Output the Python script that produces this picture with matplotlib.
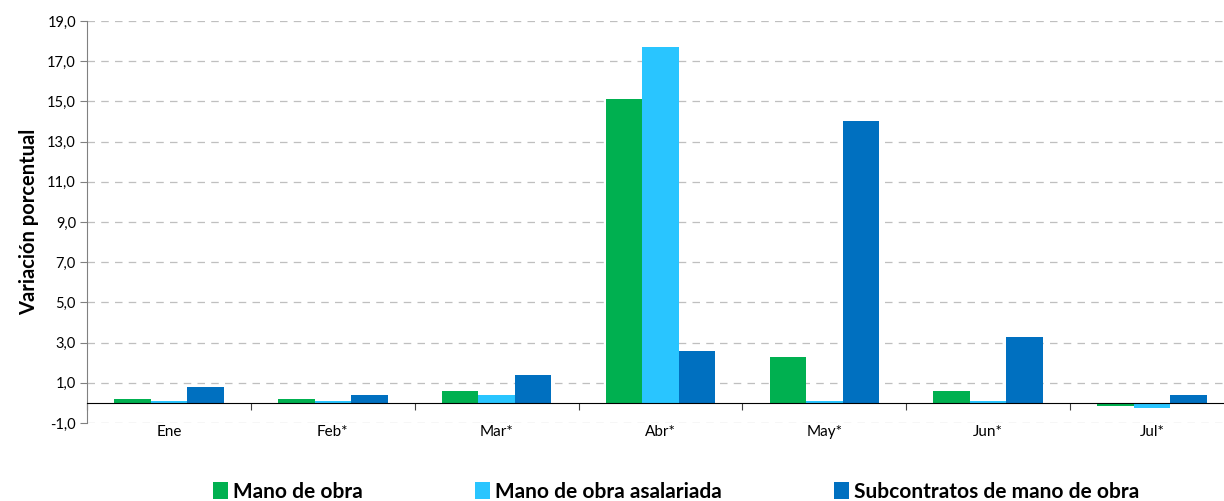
import numpy as np
import matplotlib.pyplot as plt
from matplotlib.ticker import FixedLocator, FuncFormatter

plt.rcParams['font.family'] = ['Lato', 'DejaVu Sans']

meses = ['Ene', 'Feb*', 'Mar*', 'Abr*', 'May*', 'Jun*', 'Jul*']
mano_obra = [0.2, 0.2, 0.6, 15.1, 2.3, 0.6, -0.13]
mano_obra_asalariada = [0.1, 0.1, 0.4, 17.7, 0.1, 0.1, -0.25]
subcontratos = [0.8, 0.4, 1.4, 2.6, 14.0, 3.3, 0.4]

series = [
    ('Mano de obra', mano_obra, '#00B050'),
    ('Mano de obra asalariada', mano_obra_asalariada, '#29C5FF'),
    ('Subcontratos de mano de obra', subcontratos, '#0070C0'),
]

fig = plt.figure(figsize=(12.24, 5.01), dpi=100)
ax = fig.add_axes([87 / 1224, 78 / 501, 1147 / 1224, 402 / 501])

x = np.arange(len(meses))
w = 0.223
for i, (nombre, vals, color) in enumerate(series):
    ax.bar(x + (i - 1) * w, vals, width=w, color=color, label=nombre, zorder=3)

ax.set_xlim(-0.5, len(meses) - 0.5)
ax.set_ylim(-1, 19)
ax.set_yticks(np.arange(-1, 20, 2))
ax.yaxis.set_major_formatter(FuncFormatter(lambda v, p: f'{v:.1f}'.replace('.', ',')))
ax.tick_params(axis='y', direction='out', length=5, color='#808080', labelsize=10.5, pad=3)
ax.grid(axis='y', color='#BFBFBF', linestyle=(0, (6, 5)), linewidth=0.9, zorder=0)

# x axis line at zero, ticks at category boundaries, labels below the chart
ax.spines['bottom'].set_position(('data', 0))
ax.spines['bottom'].set_color('black')
ax.spines['bottom'].set_zorder(4)
ax.xaxis.set_major_locator(FixedLocator(np.arange(-0.5, len(meses), 1.0)))
ax.xaxis.set_major_formatter(FuncFormatter(lambda v, p: ''))
ax.xaxis.set_minor_locator(FixedLocator(x))
ax.set_xticklabels(meses, minor=True)
ax.tick_params(axis='x', which='major', direction='out', length=5, color='#404040')
ax.tick_params(axis='x', which='minor', length=0, labelsize=11, pad=16)

for s in ['top', 'right']:
    ax.spines[s].set_visible(False)
ax.spines['left'].set_color('#808080')

ax.set_ylabel('Variación porcentual', fontsize=14.5, fontweight='bold', labelpad=6)

fig.legend(loc='center', bbox_to_anchor=(676 / 1224, 1 - 492 / 501), ncol=3,
           frameon=False, handlelength=0.7, handleheight=0.85, handletextpad=0.25,
           columnspacing=5.4, prop={'weight': 'bold', 'size': 15})

fig.savefig('out.png', dpi=100)
